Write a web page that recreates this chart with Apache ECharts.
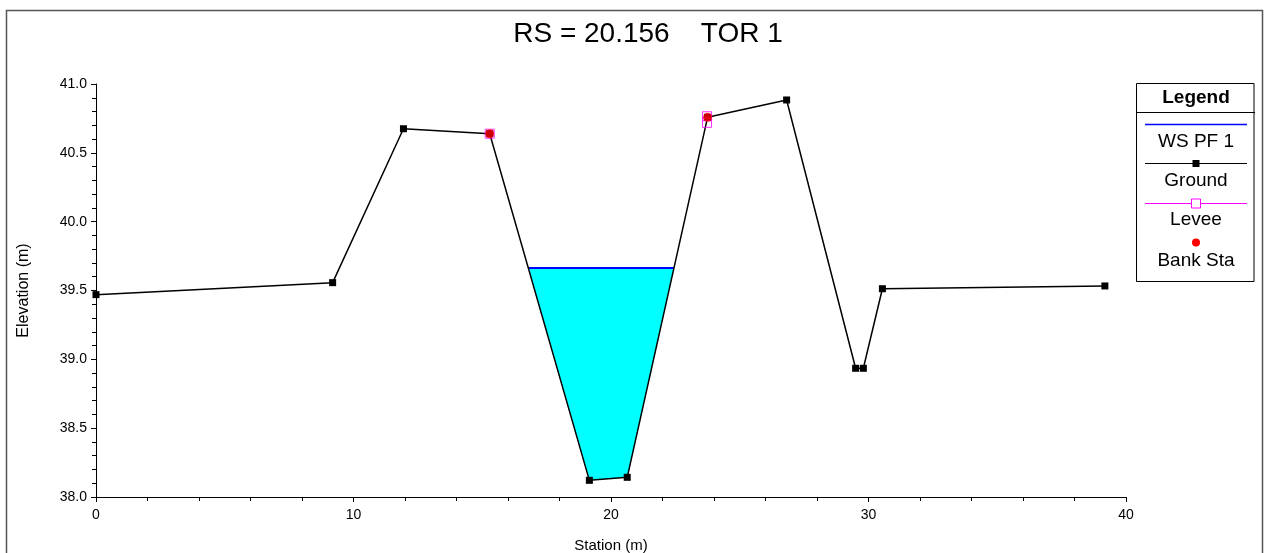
<!DOCTYPE html>
<html>
<head>
<meta charset="utf-8">
<script src="https://cdn.jsdelivr.net/npm/echarts@6/dist/echarts.min.js"></script>
<style>
  html, body { margin: 0; padding: 0; background: #fff; }
  #chart { width: 1266px; height: 553px; }
</style>
</head>
<body>
<div id="chart"></div>
<script>
// Cross section RS = 20.156, reach TOR 1
const stations  = [0, 9.19, 11.94, 15.29, 19.16, 20.63, 23.75, 26.82, 29.50, 29.80, 30.54, 39.18];
const elevation = [39.47, 39.557, 40.675, 40.639, 38.121, 38.143, 40.758, 40.884, 38.935, 38.935, 39.513, 39.533];
const bankSta   = [[15.29, 40.639], [23.75, 40.758]];
const levees    = [[15.29, 40.639], [23.73, 40.766], [23.73, 40.718]];
const wsElev    = 39.663;
const xTicks    = { min: 0, max: 40, interval: 10 };
const yTicks    = { min: 38.0, max: 41.0, interval: 0.5 };

const ground = stations.map((s, i) => [s, elevation[i]]);

// water polygon inside the main channel (between bank stations)
const channel = ground.filter(p => p[0] >= bankSta[0][0] && p[0] <= bankSta[1][0]);
const waterPoly = [];
for (let i = 0; i < channel.length; i++) {
  const a = channel[i];
  if (a[1] < wsElev) waterPoly.push(a);
  const b = channel[i + 1];
  if (b && (a[1] - wsElev) * (b[1] - wsElev) < 0) {
    const t = (wsElev - a[1]) / (b[1] - a[1]);
    waterPoly.push([a[0] + t * (b[0] - a[0]), wsElev]);
  }
}
const wsLine = waterPoly.filter(p => p[1] === wsElev);

const FONT = 'Arial, "Liberation Sans", sans-serif';
const chart = echarts.init(document.getElementById('chart'), null, { renderer: 'canvas' });

const lgX = 1136.5, lgY = 83.5, lgW = 117.5, lgH = 198;
const lx1 = 1145, lx2 = 1247, lcx = 1196;

function legendText(text, y) {
  return { type: 'text', x: lcx, y: y,
    style: { text: text, font: '19px ' + FONT, fill: '#000',
             textAlign: 'center', textVerticalAlign: 'middle' } };
}

chart.setOption({
  animation: false,
  backgroundColor: '#fff',
  grid: { left: 96, right: 140, top: 84, bottom: 56, containLabel: false, outerBoundsMode: 'none' },
  xAxis: {
    type: 'value', min: xTicks.min, max: xTicks.max, interval: xTicks.interval,
    name: 'Station (m)', nameLocation: 'middle', nameGap: 41,
    nameTextStyle: { fontFamily: FONT, fontSize: 15, color: '#000' },
    axisLine: { show: true, onZero: false, lineStyle: { color: '#000', width: 1 } },
    axisTick: { show: true, inside: false, length: 5, lineStyle: { color: '#000' } },
    minorTick: { show: true, splitNumber: 5, length: 4, lineStyle: { color: '#000' } },
    axisLabel: { fontFamily: FONT, fontSize: 14, color: '#000', margin: 11 },
    splitLine: { show: false }
  },
  yAxis: {
    type: 'value', min: yTicks.min, max: yTicks.max, interval: yTicks.interval,
    name: 'Elevation (m)', nameLocation: 'middle', nameGap: 64,
    nameTextStyle: { fontFamily: FONT, fontSize: 16, color: '#000' },
    axisLine: { show: true, onZero: false, lineStyle: { color: '#000', width: 1 } },
    axisTick: { show: true, inside: false, length: 5, lineStyle: { color: '#000' } },
    minorTick: { show: true, splitNumber: 5, length: 4, lineStyle: { color: '#000' } },
    axisLabel: { fontFamily: FONT, fontSize: 14, color: '#000', margin: 9,
                 formatter: v => v.toFixed(1) },
    splitLine: { show: false }
  },
  series: [
    {
      name: 'water', type: 'custom', coordinateSystem: 'cartesian2d',
      data: [[0, 38]], silent: true, z: 1, clip: false,
      renderItem: (params, api) => ({
        type: 'polygon',
        shape: { points: waterPoly.map(p => api.coord(p)) },
        style: { fill: '#00FFFF', stroke: null }
      })
    },
    {
      name: 'WS PF 1', type: 'line', data: wsLine, z: 2,
      symbol: 'none', lineStyle: { color: '#0000FF', width: 2 }
    },
    {
      name: 'Ground', type: 'line', data: ground, z: 3,
      symbol: 'rect', symbolSize: 7,
      itemStyle: { color: '#000' }, lineStyle: { color: '#000', width: 1.5 }
    },
    {
      name: 'Levee', type: 'scatter', data: levees, z: 4,
      symbol: 'rect', symbolSize: 9,
      itemStyle: { color: 'rgba(0,0,0,0)', borderColor: '#FF00FF', borderWidth: 1 }
    },
    {
      name: 'Bank Sta', type: 'scatter', data: bankSta, z: 5,
      symbol: 'circle', symbolSize: 9,
      itemStyle: { color: '#FF0000' }
    }
  ],
  graphic: [
    // outer frame
    { type: 'rect', shape: { x: 6.5, y: 10.5, width: 1256, height: 560 },
      style: { fill: null, stroke: '#555', lineWidth: 1.5 }, silent: true },
    // title
    { type: 'text', x: 648, y: 34,
      style: { text: 'RS = 20.156    TOR 1', font: '28px ' + FONT, fill: '#000',
               textAlign: 'center', textVerticalAlign: 'middle' } },
    // legend box
    { type: 'rect', shape: { x: lgX, y: lgY, width: lgW, height: lgH },
      style: { fill: '#fff', stroke: '#000', lineWidth: 1 } },
    { type: 'line', shape: { x1: lgX, y1: 112.5, x2: lgX + lgW + 1, y2: 112.5 },
      style: { stroke: '#000', lineWidth: 1 } },
    { type: 'text', x: lcx, y: 98,
      style: { text: 'Legend', font: 'bold 19px ' + FONT, fill: '#000',
               textAlign: 'center', textVerticalAlign: 'middle' } },
    // WS PF 1
    { type: 'line', shape: { x1: lx1, y1: 124.5, x2: lx2, y2: 124.5 },
      style: { stroke: '#0000FF', lineWidth: 1.5 } },
    legendText('WS PF 1', 142),
    // Ground
    { type: 'line', shape: { x1: lx1, y1: 163.5, x2: lx2, y2: 163.5 },
      style: { stroke: '#000', lineWidth: 1 } },
    { type: 'rect', shape: { x: lcx - 3.5, y: 160, width: 7, height: 7 },
      style: { fill: '#000' } },
    legendText('Ground', 181),
    // Levee
    { type: 'line', shape: { x1: lx1, y1: 203.5, x2: lx2, y2: 203.5 },
      style: { stroke: '#FF00FF', lineWidth: 1 } },
    { type: 'rect', shape: { x: lcx - 4.5, y: 199, width: 9, height: 9 },
      style: { fill: '#fff', stroke: '#FF00FF', lineWidth: 1 } },
    legendText('Levee', 220),
    // Bank Sta
    { type: 'circle', shape: { cx: lcx, cy: 242.5, r: 4 }, style: { fill: '#FF0000' } },
    legendText('Bank Sta', 261)
  ]
});
</script>
</body>
</html>
